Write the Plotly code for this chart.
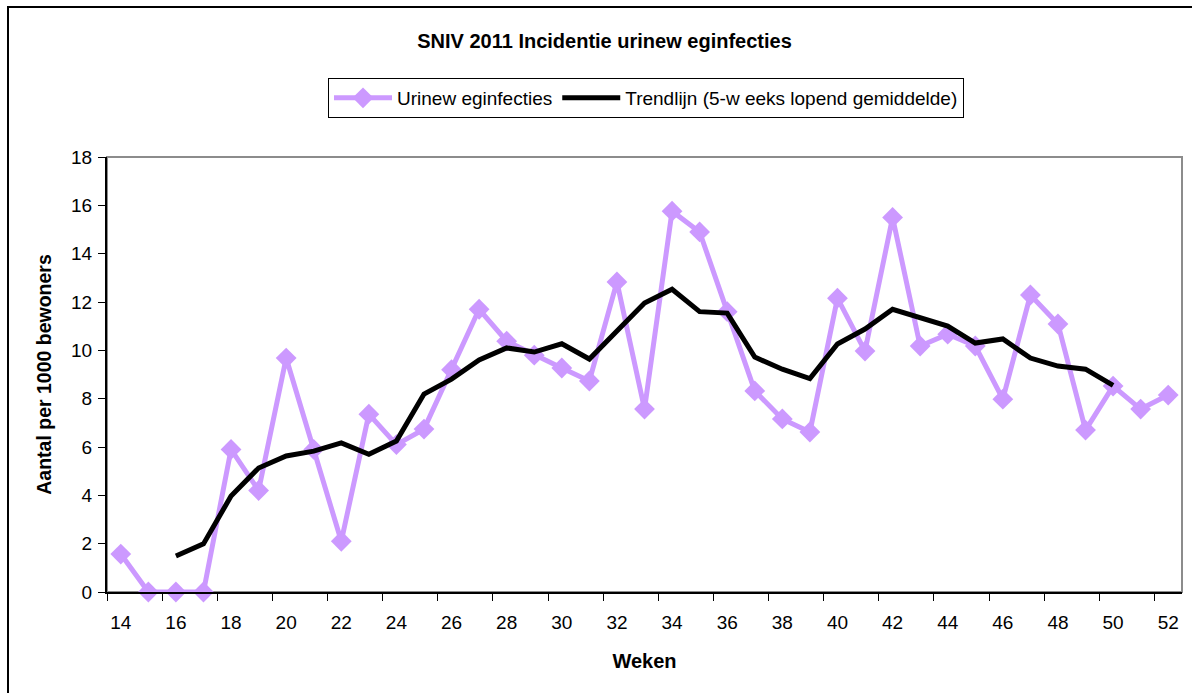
import plotly.graph_objects as go

weken = list(range(14, 53))
urineweginfecties = [1.57, 0, 0, 0, 5.9, 4.2, 9.68, 5.9, 2.1, 7.36, 6.1, 6.74, 9.2, 11.7,
                     10.38, 9.8, 9.27, 8.73, 12.83, 7.57, 15.76, 14.9, 11.6, 8.32, 7.16,
                     6.62, 12.16, 9.97, 15.5, 10.18, 10.67, 10.18, 7.98, 12.29, 11.09,
                     6.70, 8.52, 7.57, 8.15]
trend_weken = list(range(16, 51))
trendlijn = [1.49, 1.99, 3.97, 5.13, 5.63, 5.83, 6.17, 5.7, 6.25, 8.19, 8.81, 9.6, 10.1,
             9.93, 10.27, 9.64, 10.8, 11.96, 12.53, 11.6, 11.54, 9.72, 9.22, 8.83, 10.26,
             10.88, 11.7, 11.35, 11.0, 10.3, 10.47, 9.68, 9.35, 9.22, 8.55]
x_labels = list(range(14, 53, 2))
x_minor_ticks = [13.5 + 2 * k for k in range(20)]

FONT = "Liberation Sans, Arial, sans-serif"

fig = go.Figure()
fig.add_trace(go.Scatter(
    x=weken, y=urineweginfecties, mode="lines+markers",
    name="Urinew eginfecties",
    line=dict(color="#CC99FF", width=5),
    marker=dict(symbol="diamond", size=16, color="#CC99FF"),
    cliponaxis=False,
))
fig.add_trace(go.Scatter(
    x=trend_weken, y=trendlijn, mode="lines",
    name="Trendlijn (5-w eeks lopend gemiddelde)",
    line=dict(color="black", width=5),
    cliponaxis=False,
))

fig.update_layout(
    width=1192, height=693,
    margin=dict(l=107, r=10, t=157, b=101),
    paper_bgcolor="white", plot_bgcolor="white",
    font=dict(family=FONT, size=19, color="black"),
    title=dict(text="<b>SNIV 2011 Incidentie urinew eginfecties</b>",
               x=(412 + 797) / 2 / 1192, xanchor="center", y=1 - 41 / 693, yanchor="middle",
               font=dict(family=FONT, size=20, color="black")),
    legend=dict(orientation="h", x=(646 - 107) / 1075, xanchor="center", y=(592 - 78) / 435,
                yanchor="top", bordercolor="black", borderwidth=1,
                bgcolor="white", font=dict(family=FONT, size=19),
                itemwidth=58, tracegroupgap=0),
    showlegend=True,
)

fig.update_xaxes(
    range=[13.5, 52.5], tickmode="array", tickvals=x_labels,
    ticktext=[str(v) for v in x_labels], ticks="", showgrid=False, zeroline=False,
    showline=True, linecolor="black", linewidth=2,
    tickfont=dict(family=FONT, size=19), ticklabelstandoff=12,
    minor=dict(tickmode="array", tickvals=x_minor_ticks, ticks="outside",
               ticklen=7, tickcolor="black", tickwidth=1, showgrid=False),
    title=dict(text="<b>Weken</b>", font=dict(family=FONT, size=20), standoff=22),
)
fig.update_yaxes(
    range=[0, 18], dtick=2, ticks="outside", ticklen=7, tickcolor="black",
    showgrid=False, zeroline=False, showline=True, linecolor="black", linewidth=2,
    tickfont=dict(family=FONT, size=19), ticklabelstandoff=2,
    title=dict(text="<b>Aantal per 1000 bewoners</b>", font=dict(family=FONT, size=19.5),
               standoff=14),
)

# gray plot-area border (top/right)
fig.add_shape(type="rect", xref="paper", yref="paper", x0=0, x1=1, y0=0, y1=1,
              line=dict(color="#8C8C8C", width=2), layer="below")
# outer chart border
fig.add_shape(type="rect", xref="paper", yref="paper",
              x0=(8 - 107) / 1075, x1=1.05, y0=-0.3, y1=(592 - 7) / 435,
              line=dict(color="black", width=2), layer="below")

fig.write_html("out.html", config={"displayModeBar": False},
               post_script="document.body.style.margin='0';document.body.style.overflow='hidden';")
